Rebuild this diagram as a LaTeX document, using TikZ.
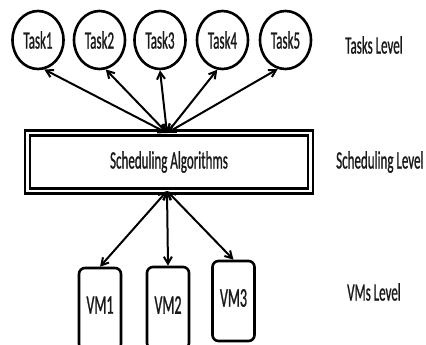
\documentclass[tikz,border=0pt]{standalone}
\usepackage{fontspec}
\setmainfont{Carlito}
\newfontfamily\narrowfont[FakeStretch=0.52,FakeBold=0.8]{Carlito}
\usetikzlibrary{arrows.meta,shapes.geometric}
\begin{document}
\begin{tikzpicture}[x=1pt,y=-1pt,
  txt/.style={font=\narrowfont\fontsize{25}{25}\selectfont, text=black!90, inner sep=0pt},
  vmtxt/.style={txt, font=\narrowfont\fontsize{27}{27}\selectfont},
  task/.style={ellipse, draw, line width=2.6pt, minimum width=51pt, minimum height=58pt, inner sep=0pt, txt},
  vmbox/.style={rectangle, draw, line width=2.6pt, rounded corners=6pt, minimum width=42pt, inner sep=0pt},
  link/.style={{Straight Barb[length=7pt,width=8pt]}-{Straight Barb[length=7pt,width=8pt]}, line width=2pt},
  lvl/.style={txt, anchor=west}]
\useasboundingbox (0,0) rectangle (426,345);
\fill[white] (0,0) rectangle (426,345);
\clip (0,0) rectangle (426,345);
\node[task] (t1) at (38,40) {Task1};
\node[task] (t2) at (99.5,40) {Task2};
\node[task] (t3) at (160,40) {Task3};
\node[task] (t4) at (222.5,40) {Task4};
\node[task] (t5) at (285.5,40) {Task5};
\node[draw, line width=2.5pt, double, double distance=2.5pt, minimum width=283pt, minimum height=58pt, inner sep=0pt, txt] (alg) at (169,162) {Scheduling Algorithms};
\coordinate (top) at (167,133);
\coordinate (bot) at (167,191);
\node[vmbox, minimum height=82pt] (vm1) at (100,309) {};
\node[vmbox, minimum height=82pt] (vm2) at (168,308) {};
\node[vmbox, minimum height=80pt] (vm3) at (233.5,301) {};
\node[vmtxt] (vm1t) at (100,305) {VM1};
\node[vmtxt] (vm2t) at (168,305) {VM2};
\node[vmtxt] (vm3t) at (233.5,298) {VM3};
\draw[link] (top) -- (t1.-78);
\draw[link] (top) -- (t2.-78);
\draw[link] (top) -- (t3.south);
\draw[link] (top) -- (t4.-100);
\draw[link] (top) -- (t5.-105);
\draw[link] (bot) -- (vm1.north);
\draw[link] (bot) -- (vm2.north);
\draw[link] (bot) -- (vm3.north);
\node[lvl] (l1) at (345,45) {Tasks Level};
\node[lvl] (l2) at (336,162) {Scheduling Level};
\node[lvl] (l3) at (347,292) {VMs Level};
\end{tikzpicture}
\end{document}
